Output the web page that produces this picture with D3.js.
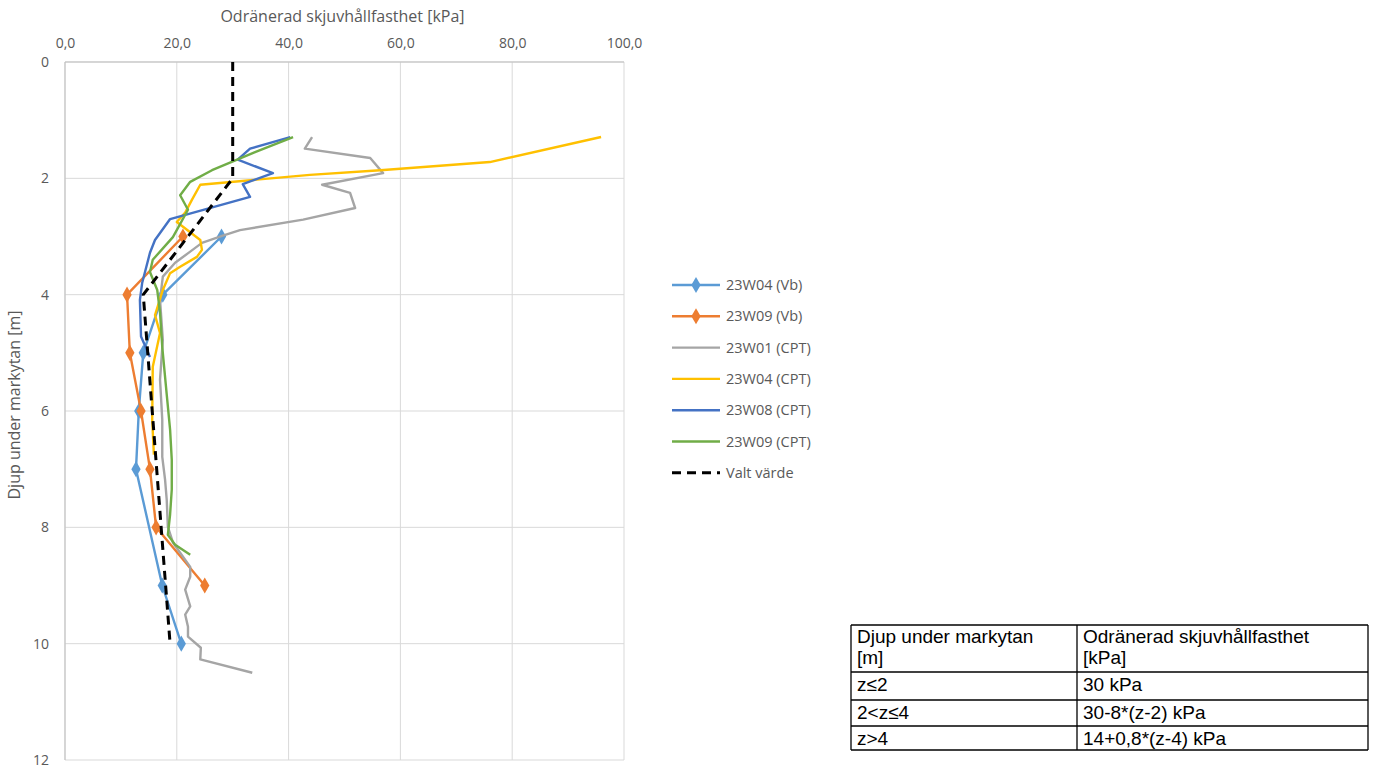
<!DOCTYPE html>
<html>
<head>
<meta charset="utf-8">
<script src="https://cdn.jsdelivr.net/npm/d3@7"></script>
<style>
  html, body { margin: 0; padding: 0; background: #fff; }
  svg { display: block; }
  .tick-label { font-family: "Open Sans", "Noto Sans", sans-serif; font-size: 14px; fill: #595959; }
  .axis-title { font-family: "Open Sans", "Noto Sans", sans-serif; font-size: 16px; fill: #595959; }
  .legend-text { font-family: "Open Sans", "Noto Sans", sans-serif; font-size: 14.5px; fill: #595959; }
  .table-text { font-family: "Liberation Sans", Arial, sans-serif; font-size: 19px; fill: #000; }
</style>
</head>
<body>
<svg id="chart" width="1375" height="765"></svg>
<script>
// Depth profiles: depth z [m] and undrained shear strength [kPa]
const vb04Depth = [3, 4, 5, 6, 7, 9, 10];
const vb04Value = [28, 17.5, 14, 13.2, 12.7, 17.4, 20.8];

const vb09Depth = [3, 4, 5, 6, 7, 8, 9];
const vb09Value = [21.1, 11.1, 11.6, 13.6, 15.2, 16.3, 25.0];

const cpt01Depth = [1.29, 1.49, 1.65, 1.91, 2.11, 2.25, 2.51, 2.71, 2.89, 2.99, 3.11, 3.26, 3.45, 3.69, 4.09, 4.78, 5.46, 6.15, 6.79, 7.18, 7.53, 7.99, 8.26, 8.68, 8.85, 9.07, 9.36, 9.50, 9.71, 9.88, 10.07, 10.27, 10.50];
const cpt01Value = [44.2, 42.9, 54.6, 56.9, 46.0, 51.0, 51.9, 42.6, 31.3, 28.1, 24.5, 22.4, 19.7, 17.5, 17.0, 17.5, 17.0, 17.4, 17.4, 17.9, 18.2, 18.4, 19.3, 22.4, 22.4, 21.5, 22.4, 21.5, 22.0, 22.0, 24.3, 24.2, 33.5];

const cpt04Depth = [1.29, 1.72, 1.86, 1.94, 2.11, 2.37, 2.59, 2.75, 3.06, 3.23, 3.35, 3.52, 3.63, 3.92, 4.35, 4.66, 5.24, 6.15, 6.75];
const cpt04Value = [95.9, 76.0, 56.4, 43.8, 24.2, 22.7, 21.5, 20.0, 24.2, 24.5, 23.6, 20.6, 18.8, 17.5, 16.1, 17.0, 15.7, 15.6, 15.9];

const cpt08Depth = [1.29, 1.49, 1.68, 1.91, 2.10, 2.32, 2.70, 3.06, 3.28, 3.80, 4.09, 4.72, 5.07];
const cpt08Value = [40.3, 33.1, 30.9, 37.2, 31.8, 33.1, 18.8, 16.1, 15.2, 13.8, 13.4, 13.6, 15.2];

const cpt09Depth = [1.29, 1.55, 1.86, 2.06, 2.29, 2.54, 3.01, 3.40, 3.61, 3.92, 4.31, 4.90, 5.72, 6.32, 6.84, 7.35, 7.78, 8.13, 8.30, 8.47];
const cpt09Value = [40.8, 34.0, 26.3, 22.4, 20.6, 22.0, 19.3, 15.7, 15.2, 16.5, 17.0, 17.4, 18.2, 18.8, 19.1, 19.1, 18.8, 18.4, 19.7, 22.4];

// Chosen design value: 30 kPa (z<=2), 30-8(z-2) (2<z<=4), 14+0.8(z-4) (z>4)
const valtDepth = [0, 2, 4, 10];
const valtValue = [30, 30, 14, 18.8];

const seriesNames = ["23W04 (Vb)", "23W09 (Vb)", "23W01 (CPT)", "23W04 (CPT)", "23W08 (CPT)", "23W09 (CPT)", "Valt värde"];
const seriesColors = ["#5B9BD5", "#ED7D31", "#A5A5A5", "#FFC000", "#4472C4", "#70AD47", "#000000"];

const xTicks = [0, 20, 40, 60, 80, 100];
const yTicks = [0, 2, 4, 6, 8, 10, 12];

const tableRows = [
  ["Djup under markytan|[m]", "Odränerad skjuvhållfasthet|[kPa]"],
  ["z≤2", "30 kPa"],
  ["2<z≤4", "30-8*(z-2) kPa"],
  ["z>4", "14+0,8*(z-4) kPa"]
];

const series = [
  { depth: vb04Depth, value: vb04Value, marker: true, dashed: false },
  { depth: vb09Depth, value: vb09Value, marker: true, dashed: false },
  { depth: cpt01Depth, value: cpt01Value, marker: false, dashed: false },
  { depth: cpt04Depth, value: cpt04Value, marker: false, dashed: false },
  { depth: cpt08Depth, value: cpt08Value, marker: false, dashed: false },
  { depth: cpt09Depth, value: cpt09Value, marker: false, dashed: false },
  { depth: valtDepth, value: valtValue, marker: false, dashed: true }
].map((s, i) => ({ ...s, name: seriesNames[i], color: seriesColors[i] }));

const svg = d3.select("#chart");
const plot = { left: 65, right: 624, top: 62, bottom: 760 };

const x = d3.scaleLinear().domain([0, 100]).range([plot.left, plot.right]);
const y = d3.scaleLinear().domain([0, 12]).range([plot.top, plot.bottom]);

// Gridlines
const grid = svg.append("g");
grid.selectAll("line.vx").data(xTicks).join("line")
  .attr("x1", d => x(d)).attr("x2", d => x(d))
  .attr("y1", plot.top).attr("y2", plot.bottom)
  .attr("stroke", "#d9d9d9").attr("stroke-width", 1);
grid.selectAll("line.hy").data(yTicks).join("line")
  .attr("x1", plot.left).attr("x2", plot.right)
  .attr("y1", d => y(d)).attr("y2", d => y(d))
  .attr("stroke", "#d9d9d9").attr("stroke-width", 1);

// Axis lines
svg.append("line").attr("x1", plot.left).attr("x2", plot.right)
  .attr("y1", plot.top).attr("y2", plot.top).attr("stroke", "#bfbfbf");
svg.append("line").attr("x1", plot.left).attr("x2", plot.left)
  .attr("y1", plot.top).attr("y2", plot.bottom).attr("stroke", "#bfbfbf");

// Top axis tick labels
const fmt = d => d3.format(".1f")(d).replace(".", ",");
const xAxis = d3.axisTop(x).tickValues(xTicks).tickFormat(fmt).tickSize(0).tickPadding(0);
const gx = svg.append("g").attr("transform", `translate(0,${plot.top - 14})`).call(xAxis);
gx.select(".domain").remove();
gx.selectAll("text").attr("class", "tick-label").attr("dy", "0");

// Left axis tick labels
const yAxis = d3.axisLeft(y).tickValues(yTicks).tickFormat(d3.format("d")).tickSize(0).tickPadding(0);
const gy = svg.append("g").attr("transform", `translate(${plot.left - 16},0)`).call(yAxis);
gy.select(".domain").remove();
gy.selectAll("text").attr("class", "tick-label");

// Axis titles
svg.append("text").attr("class", "axis-title")
  .attr("x", (plot.left + plot.right) / 2 - 2).attr("y", 22)
  .attr("text-anchor", "middle").text("Odränerad skjuvhållfasthet [kPa]");
svg.append("text").attr("class", "axis-title")
  .attr("transform", `translate(20,${(plot.top + plot.bottom) / 2 - 6}) rotate(-90)`)
  .attr("text-anchor", "middle").text("Djup under markytan [m]");

// Series lines
const line = d3.line().x(d => x(d[1])).y(d => y(d[0]));
const diamond = d3.symbol().type(d3.symbolDiamond).size(75);

const lines = svg.append("g");
series.forEach(s => {
  const pts = s.depth.map((d, i) => [d, s.value[i]]);
  lines.append("path").datum(pts)
    .attr("d", line)
    .attr("fill", "none")
    .attr("stroke", s.color)
    .attr("stroke-width", s.dashed ? 3 : 2.4)
    .attr("stroke-linejoin", "round")
    .attr("stroke-dasharray", s.dashed ? "9,6" : null);
  if (s.marker) {
    lines.append("g").selectAll("path").data(pts).join("path")
      .attr("transform", d => `translate(${x(d[1])},${y(d[0])})`)
      .attr("d", diamond)
      .attr("fill", s.color);
  }
});

// Legend
const legend = svg.append("g").attr("transform", "translate(672,285)");
series.forEach((s, i) => {
  const g = legend.append("g").attr("transform", `translate(0,${i * 31.3})`);
  g.append("line").attr("x1", 0).attr("x2", 48).attr("y1", 0).attr("y2", 0)
    .attr("stroke", s.color)
    .attr("stroke-width", s.dashed ? 3 : 2.4)
    .attr("stroke-dasharray", s.dashed ? "9,6" : null);
  if (s.marker) {
    g.append("path").attr("transform", "translate(24,0)").attr("d", diamond).attr("fill", s.color);
  }
  g.append("text").attr("class", "legend-text").attr("x", 54).attr("y", 0)
    .attr("dy", "0.35em").text(s.name);
});

// Table of chosen values
const colX = [851, 1077, 1368];
const rowY = [625, 672, 700, 726, 750];
const table = svg.append("g");
tableRows.forEach((row, r) => {
  row.forEach((cell, c) => {
    const linesText = cell.split("|");
    linesText.forEach((t, k) => {
      table.append("text").attr("class", "table-text")
        .attr("x", colX[c] + 6)
        .attr("y", rowY[r] + (linesText.length > 1 ? 18 : 19) + k * 21)
        .text(t);
    });
  });
});
rowY.forEach(v => {
  table.append("line").attr("x1", colX[0]).attr("x2", colX[2])
    .attr("y1", v).attr("y2", v).attr("stroke", "#000").attr("stroke-width", 1.3);
});
colX.forEach(v => {
  table.append("line").attr("x1", v).attr("x2", v)
    .attr("y1", rowY[0]).attr("y2", rowY[rowY.length - 1]).attr("stroke", "#000").attr("stroke-width", 1.3);
});
</script>
</body>
</html>
